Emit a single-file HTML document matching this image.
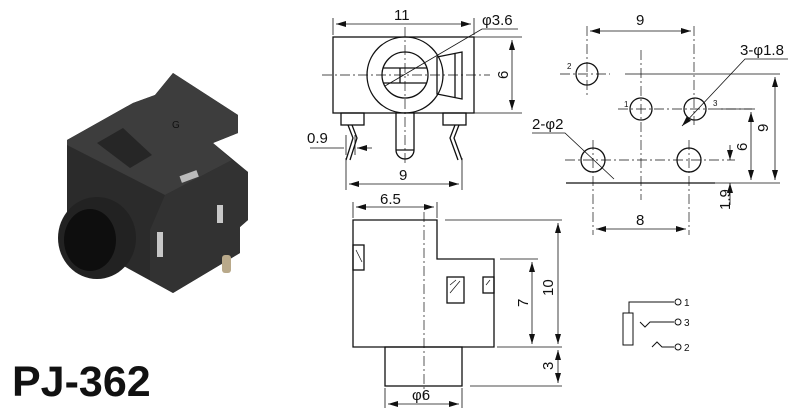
<!DOCTYPE html>
<html><head><meta charset="utf-8"><style>
html,body{margin:0;padding:0;background:#fff;width:800px;height:410px;overflow:hidden}
svg{display:block}
text{font-family:"Liberation Sans",Arial,sans-serif;fill:#111}
</style></head><body>
<svg width="800" height="410" viewBox="0 0 800 410" xmlns="http://www.w3.org/2000/svg">
<defs>
<marker id="a" viewBox="0 0 10 6" refX="10" refY="3" markerWidth="10" markerHeight="6" orient="auto-start-reverse" markerUnits="userSpaceOnUse"><path d="M0,0L10,3L0,6z" fill="#111"/></marker>
</defs>
<!-- photo -->
<g>
<polygon points="67,140 133,103 155,95 173,73 238,115 238,133 213,143 248,172 248,220 240,227 240,253 173,293 140,275 67,235" fill="#2b2b2b"/>
<polygon points="67,140 133,103 155,95 173,73 238,115 238,133 213,143 232,160 165,195 67,145" fill="#3d3d3d"/>
<polygon points="97,143 123,128 152,155 130,168" fill="#262626"/>
<polygon points="165,195 232,160 248,172 248,220 240,227 240,253 173,293 150,280 150,230" fill="#323232"/>
<ellipse cx="97" cy="238" rx="39" ry="41" fill="#222"/>
<ellipse cx="90" cy="240" rx="26" ry="31" fill="#0e0e0e"/>
<rect x="180" y="173" width="18" height="7" fill="#bbb" transform="rotate(-20 189 176)"/>
<rect x="157" y="232" width="6" height="25" fill="#c8c8c8"/>
<rect x="217" y="205" width="6" height="18" fill="#c8c8c8"/>
<rect x="222" y="255" width="9" height="18" rx="3" fill="#b9a98a"/>
<text x="172" y="128" font-size="10" style="fill:#111">G</text>
</g>
<text x="12" y="396" font-size="43" font-weight="bold" style="fill:#111">PJ-362</text>

<g stroke="#111" fill="none" stroke-width="1.3">
<!-- top view -->
<rect x="333" y="37" width="141" height="76"/>
<circle cx="405" cy="75" r="38"/>
<circle cx="405" cy="75" r="23"/>
<path d="M383,68H427M383,83H427M400,68V83"/>
<polygon points="437,57 462,52 462,99 437,94"/>
<path d="M455,53V98"/>
<rect x="341" y="113" width="23" height="12"/>
<rect x="443" y="113" width="23" height="12"/>
<path d="M348,125L353,138L346,160M352,125L357,138L350,160"/>
<path d="M455,125L450,138L458,160M459,125L454,138L462,160"/>
<path d="M396,113V150A9,9 0 0 0 414,150V113M396,150H414"/>
<path d="M333,35V18M474,35V18M474,37H522M474,113H522M346,158V190M462,158V190M346,135V155M355,135V155" stroke-width="0.8"/>
<path d="M336,24H471" marker-start="url(#a)" marker-end="url(#a)" stroke-width="0.8"/>
<path d="M512,40V110" marker-start="url(#a)" marker-end="url(#a)" stroke-width="0.8"/>
<path d="M349,184H459" marker-start="url(#a)" marker-end="url(#a)" stroke-width="0.8"/>
<path d="M310,148H344M372,148H357" stroke-width="0.8" marker-end="url(#a)"/>
<path d="M385,86L482,29H518" stroke-width="0.8"/>
<path d="M322,75H490M405,27V165" stroke-width="0.7" stroke-dasharray="10,3,2,3"/>

<!-- hole pattern -->
<circle cx="587" cy="74" r="11"/>
<circle cx="641" cy="109" r="11"/>
<circle cx="695" cy="109" r="11"/>
<circle cx="593" cy="160" r="12"/>
<circle cx="689" cy="160" r="12"/>
<path d="M566,183H715"/>
<g stroke-width="0.7" stroke-dasharray="10,3,2,3">
<path d="M560,74H610M618,109H752M565,160H735M587,26V95M593,140V235M641,50V200M694,26V125M689,140V235"/>
</g>
<path d="M625,74H780M718,109H755M715,183H780" stroke-width="0.8"/>
<path d="M590,31H691" marker-start="url(#a)" marker-end="url(#a)" stroke-width="0.8"/>
<path d="M596,229H686" marker-start="url(#a)" marker-end="url(#a)" stroke-width="0.8"/>
<path d="M775,77V180" marker-start="url(#a)" marker-end="url(#a)" stroke-width="0.8"/>
<path d="M751,112V180" marker-start="url(#a)" marker-end="url(#a)" stroke-width="0.8"/>
<path d="M730,145V160" marker-end="url(#a)" stroke-width="0.8"/>
<path d="M730,205V183" marker-end="url(#a)" stroke-width="0.8"/>
<path d="M788,59H745L682,126" stroke-width="0.8" marker-end="url(#a)"/>
<path d="M532,133H565L614,179" stroke-width="0.8"/>

<!-- side view -->
<path d="M353,220H437V259H494V347H353Z"/>
<rect x="385" y="347" width="77" height="39"/>
<rect x="353" y="245" width="11" height="25"/>
<rect x="447" y="277" width="17" height="26"/>
<rect x="483" y="277" width="11" height="16"/>
<path d="M356,250L362,262M450,285L456,280M450,293L460,281M486,285L490,280" stroke-width="0.7"/>
<path d="M424,212V400" stroke-width="0.7" stroke-dasharray="10,3,2,3"/>
<path d="M353,202V218M437,202V218M445,220H562M497,347H562M500,259H538M470,386H562M385,388V408M462,388V408" stroke-width="0.8"/>
<path d="M356,207H434" marker-start="url(#a)" marker-end="url(#a)" stroke-width="0.8"/>
<path d="M558,223V344" marker-start="url(#a)" marker-end="url(#a)" stroke-width="0.8"/>
<path d="M532,262V344" marker-start="url(#a)" marker-end="url(#a)" stroke-width="0.8"/>
<path d="M558,350V383" marker-start="url(#a)" marker-end="url(#a)" stroke-width="0.8"/>
<path d="M388,404H459" marker-start="url(#a)" marker-end="url(#a)" stroke-width="0.8"/>

<!-- schematic -->
<path d="M629,313V302H674M640,322L645,327L650,322H674M652,347L657,342L662,347H674" stroke-width="1"/>
<rect x="623" y="313" width="10" height="32" stroke-width="1"/>
<circle cx="678" cy="302" r="3" stroke-width="1"/>
<circle cx="678" cy="322" r="3" stroke-width="1"/>
<circle cx="678" cy="347" r="3" stroke-width="1"/>
</g>

<g font-size="15">
<text x="394" y="20">11</text>
<text x="482" y="25">φ3.6</text>
<text x="508" y="79" transform="rotate(-90 508 79)">6</text>
<text x="307" y="143">0.9</text>
<text x="399" y="180">9</text>
<text x="636" y="25">9</text>
<text x="636" y="225">8</text>
<text x="740" y="55">3-φ1.8</text>
<text x="532" y="129">2-φ2</text>
<text x="768" y="132" transform="rotate(-90 768 132)">9</text>
<text x="747" y="151" transform="rotate(-90 747 151)">6</text>
<text x="730" y="210" transform="rotate(-90 730 210)">1.9</text>
<text x="380" y="204">6.5</text>
<text x="553" y="296" transform="rotate(-90 553 296)">10</text>
<text x="528" y="307" transform="rotate(-90 528 307)">7</text>
<text x="553" y="370" transform="rotate(-90 553 370)">3</text>
<text x="412" y="400">φ6</text>
</g>
<g font-size="8">
<text x="567" y="69">2</text>
<text x="624" y="107">1</text>
<text x="713" y="106">3</text>
</g>
<g font-size="10">
<text x="684" y="306">1</text>
<text x="684" y="326">3</text>
<text x="684" y="351">2</text>
</g>
</svg>
</body></html>
